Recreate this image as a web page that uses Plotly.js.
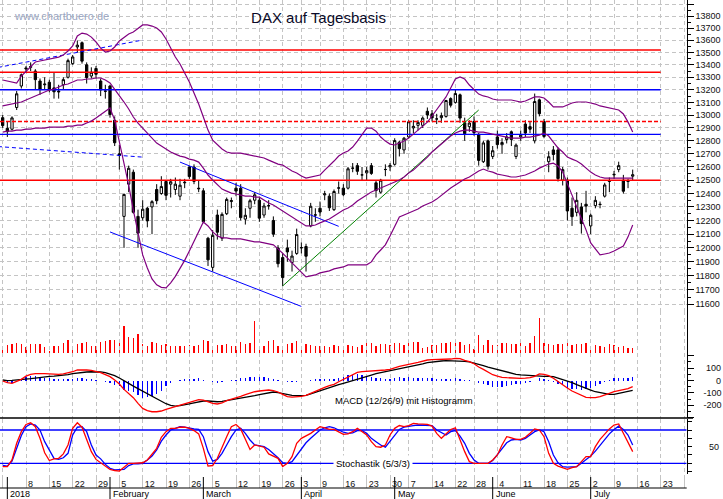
<!DOCTYPE html>
<html><head><meta charset="utf-8">
<script src="https://cdn.plot.ly/plotly-3.0.1.min.js"></script>
<style>html,body{margin:0;padding:0;background:#fff}#chart{width:723px;height:499px}</style>
</head><body><div id="chart"></div>
<script>
// ---------------- DATA ----------------
const dates = ['2017-12-29',
'2018-01-02','2018-01-03','2018-01-04','2018-01-05','2018-01-08','2018-01-09','2018-01-10','2018-01-11','2018-01-12','2018-01-15','2018-01-16','2018-01-17','2018-01-18','2018-01-19','2018-01-22','2018-01-23','2018-01-24','2018-01-25','2018-01-26','2018-01-29','2018-01-30','2018-01-31',
'2018-02-01','2018-02-02','2018-02-05','2018-02-06','2018-02-07','2018-02-08','2018-02-09','2018-02-12','2018-02-13','2018-02-14','2018-02-15','2018-02-16','2018-02-19','2018-02-20','2018-02-21','2018-02-22','2018-02-23','2018-02-26','2018-02-27','2018-02-28',
'2018-03-01','2018-03-02','2018-03-05','2018-03-06','2018-03-07','2018-03-08','2018-03-09','2018-03-12','2018-03-13','2018-03-14','2018-03-15','2018-03-16','2018-03-19','2018-03-20','2018-03-21','2018-03-22','2018-03-23','2018-03-26','2018-03-27','2018-03-28','2018-03-29',
'2018-04-03','2018-04-04','2018-04-05','2018-04-06','2018-04-09','2018-04-10','2018-04-11','2018-04-12','2018-04-13','2018-04-16','2018-04-17','2018-04-18','2018-04-19','2018-04-20','2018-04-23','2018-04-24','2018-04-25','2018-04-26','2018-04-27','2018-04-30',
'2018-05-02','2018-05-03','2018-05-04','2018-05-07','2018-05-08','2018-05-09','2018-05-10','2018-05-11','2018-05-14','2018-05-15','2018-05-16','2018-05-17','2018-05-18','2018-05-22','2018-05-23','2018-05-24','2018-05-25','2018-05-28','2018-05-29','2018-05-30','2018-05-31',
'2018-06-01','2018-06-04','2018-06-05','2018-06-06','2018-06-07','2018-06-08','2018-06-11','2018-06-12','2018-06-13','2018-06-14','2018-06-15','2018-06-18','2018-06-19','2018-06-20','2018-06-21','2018-06-22','2018-06-25','2018-06-26','2018-06-27','2018-06-28','2018-06-29',
'2018-07-02','2018-07-03','2018-07-04','2018-07-05','2018-07-06','2018-07-09','2018-07-10','2018-07-11','2018-07-12','2018-07-13'];

const openP = [12980,12897,12890,13060,13230,13375,13380,13350,13270,13240,
13260,13215,13190,13240,13300,13410,13545,13580,13400,13310,
13370,13270,13190,13230,12960,12700,12230,12470,12560,12230,
12220,12290,12300,12430,12400,12490,12470,12430,12380,12480,
12600,12600,12440,12420,12070,11860,12240,12070,12250,12340,
12440,12440,12210,12290,12350,12350,12240,12310,12200,12000,
11930,12000,11895,11960,12000,12010,12160,12240,12290,12390,
12380,12280,12440,12440,12440,12590,12610,12540,12555,12610,
12480,12410,12580,12600,12620,12790,12730,12830,12900,12920,
12920,13030,13010,12970,12980,12990,13130,13100,13160,12940,
12910,12950,12850,12640,12800,12680,12830,12770,12810,12870,
12680,12830,12930,12910,12800,13120,12950,12640,12730,12730,
12500,12500,12290,12260,12300,12320,12160,12310,12320,12380,
12490,12540,12580,12500,12490,12530];
const highP = [13000,12951,12990,13190,13330,13390,13420,13365,13290,13300,
13280,13340,13240,13300,13450,13480,13597,13590,13420,13380,
13390,13290,13240,13240,12990,12770,12400,12610,12580,12280,
12350,12300,12350,12470,12530,12500,12510,12520,12510,12510,
12610,12620,12500,12440,12080,12130,12280,12260,12370,12370,
12480,12470,12290,12360,12410,12370,12330,12350,12230,12020,
11960,12060,11980,12140,12040,12030,12330,12290,12340,12420,
12400,12430,12490,12470,12600,12630,12630,12600,12600,12630,
12500,12510,12620,12630,12820,12800,12830,12960,12960,12960,
12990,13060,13040,13010,13020,13120,13140,13205,13170,12980,
12960,12990,12860,12800,12810,12760,12880,12820,12860,12880,
12780,12880,12960,12950,13170,13130,12970,12720,12760,12750,
12600,12520,12370,12410,12330,12420,12250,12380,12340,12480,
12520,12570,12640,12540,12510,12580];
const lowP = [12900,12830,12880,13040,13210,13340,13350,13200,13160,13200,
13180,13130,13130,13200,13290,13400,13500,13410,13250,13290,
13290,13150,13130,12980,12760,12580,12000,12410,12250,12000,
12200,12150,12100,12320,12390,12350,12370,12390,12350,12440,
12510,12470,12410,12180,11870,11830,12060,12050,12240,12290,
12380,12200,12170,12220,12320,12190,12220,12280,12080,11860,
11726,11900,11830,11950,11960,11830,12150,12190,12230,12350,
12270,12270,12400,12380,12430,12560,12540,12500,12500,12540,
12370,12400,12530,12570,12610,12680,12700,12820,12860,12880,
12900,12970,12950,12930,12940,12980,13060,13090,12940,12800,
12870,12840,12610,12630,12580,12660,12740,12700,12780,12760,
12660,12800,12830,12860,12780,12990,12820,12560,12650,12490,
12460,12200,12160,12230,12104,12260,12100,12290,12290,12370,
12410,12510,12560,12400,12440,12500];
const closeP = [12918,12871,12978,13168,13320,13368,13386,13281,13203,13245,
13200,13184,13184,13281,13434,13464,13560,13430,13298,13340,
13324,13198,13189,13004,12785,12687,12393,12590,12260,12107,
12283,12197,12339,12346,12452,12386,12488,12470,12462,12484,
12527,12491,12436,12191,11914,12091,12114,12245,12356,12347,
12418,12221,12238,12346,12390,12217,12307,12309,12100,11886,
11787,11971,11941,12097,12002,11940,12305,12241,12262,12397,
12294,12415,12442,12391,12586,12591,12567,12540,12572,12551,
12422,12500,12581,12612,12802,12740,12820,12948,12912,12943,
12977,13001,12978,12970,12996,13115,13078,13170,12977,12855,
12938,12863,12650,12784,12605,12724,12771,12787,12830,12811,
12767,12843,12860,12890,13107,13011,12834,12678,12695,12512,
12580,12270,12228,12349,12177,12306,12238,12349,12318,12464,
12496,12544,12610,12417,12493,12541];

const volume = [40,83,90,100,90,60,90,90,90,60,
26,70,70,100,130,70,90,100,110,70,
70,110,120,130,130,140,270,160,150,190,
90,70,110,100,80,90,70,70,70,70,
80,70,80,130,120,70,80,80,90,70,
70,110,90,100,320,70,70,120,130,70,
70,90,100,120,70,90,80,70,70,70,
60,80,70,60,80,70,60,83,100,106,
73,93,93,83,106,106,83,100,116,116,
50,66,83,83,100,100,116,133,116,83,
90,40,183,83,133,83,83,106,100,93,
93,100,73,100,173,350,100,93,83,93,
93,116,83,93,93,100,73,83,73,60,
93,83,60,73,50,50];

const bandUpper = [13278,13270,13262,13254,13310,13350,13390,13423,13431,13439,
13447,13455,13463,13480,13512,13553,13635,13659,13651,13626,
13586,13536,13504,13512,13545,13594,13626,13651,13668,13701,
13726,13726,13717,13701,13668,13610,13536,13463,13407,13334,
13262,13174,13087,12985,12883,12806,12768,12737,12714,12706,
12706,12706,12698,12691,12683,12675,12668,12652,12637,12622,
12614,12591,12569,12554,12531,12516,12524,12531,12539,12576,
12607,12645,12683,12706,12722,12752,12798,12852,12899,12899,
12875,12829,12798,12775,12768,12783,12798,12821,12852,12883,
12914,12945,12993,13040,13087,13143,13214,13286,13302,13286,
13238,13198,13166,13151,13143,13127,13119,13119,13119,13119,
13111,13103,13111,13127,13143,13143,13135,13103,13064,13064,
13064,13080,13095,13103,13103,13103,13095,13087,13072,13064,
13056,13048,13040,13009,12945,12868];
const bandMiddle = [13072,13080,13087,13095,13103,13119,13135,13151,13166,13182,
13198,13206,13222,13238,13246,13262,13278,13278,13286,13286,
13294,13294,13278,13254,13206,13151,13103,13048,12985,12938,
12899,12860,12814,12783,12760,12737,12714,12698,12683,12675,
12660,12652,12637,12591,12539,12501,12463,12433,12418,12403,
12396,12388,12381,12381,12373,12373,12351,12329,12314,12292,
12270,12248,12226,12204,12182,12160,12160,12167,12182,12197,
12211,12233,12255,12277,12292,12314,12344,12366,12388,12411,
12426,12441,12456,12471,12486,12501,12524,12554,12576,12607,
12645,12675,12714,12745,12775,12806,12837,12860,12875,12883,
12883,12875,12868,12868,12860,12852,12844,12837,12829,12821,
12821,12821,12829,12829,12837,12844,12860,12837,12790,12745,
12714,12675,12660,12645,12622,12591,12561,12539,12524,12516,
12516,12516,12516,12516,12516,12516];
const bandLower = [12868,12875,12875,12883,12883,12891,12891,12899,12899,12899,
12906,12906,12906,12906,12914,12914,12922,12922,12938,12953,
12977,13001,13032,13056,12961,12790,12637,12463,12277,12102,
11949,11856,11778,11736,11718,11714,11750,11796,11849,11910,
11978,12051,12124,12189,12160,12116,12087,12073,12073,12065,
12065,12065,12058,12051,12044,12044,12036,12029,12022,11993,
11963,11928,11892,11856,11821,11792,11799,11806,11821,11828,
11835,11849,11856,11863,11878,11878,11878,11878,11878,11899,
11949,11985,12022,12087,12160,12226,12240,12255,12270,12284,
12307,12322,12336,12358,12388,12411,12441,12463,12486,12509,
12524,12546,12569,12584,12569,12561,12546,12539,12531,12524,
12524,12531,12539,12554,12569,12591,12607,12622,12629,12607,
12561,12478,12388,12299,12218,12131,12036,11993,11949,11956,
11963,11978,11993,12014,12080,12167];

const macdLine = [-4,-18,-23,-10,9,36,50,55,58,55,
53,50,50,53,61,71,85,88,85,82,
74,63,47,31,4,-28,-72,-104,-139,-185,
-226,-244,-253,-253,-247,-234,-223,-212,-196,-185,
-174,-166,-155,-158,-172,-185,-190,-182,-163,-153,
-142,-128,-115,-101,-91,-85,-80,-77,-82,-93,
-112,-131,-134,-134,-128,-120,-104,-85,-66,-55,
-42,-31,-10,9,31,47,66,72,74,74,
77,80,85,90,104,115,123,134,139,147,
158,166,169,169,171,171,174,179,177,163,
153,136,109,90,69,47,36,26,23,20,
18,18,20,23,34,53,50,39,18,-10,
-31,-61,-85,-104,-123,-136,-139,-139,-131,-120,
-104,-91,-82,-77,-66,-50];
const signalLine = [4,-1,1,4,4,7,15,20,26,31,
34,36,39,42,47,55,61,66,69,71,
71,69,63,53,39,20,1,-23,-45,-66,
-88,-107,-126,-145,-166,-188,-201,-207,-204,-199,
-190,-182,-174,-166,-166,-172,-172,-169,-163,-158,
-150,-145,-139,-131,-123,-115,-107,-99,-93,-99,
-107,-115,-120,-123,-123,-120,-109,-96,-82,-69,
-55,-45,-34,-23,-11,1,13,26,36,44,
55,63,69,74,82,90,101,109,117,126,
134,144,150,155,158,161,161,161,161,155,
150,142,131,120,109,99,88,77,66,58,
50,45,42,39,36,36,34,34,31,20,
9,-4,-18,-34,-50,-64,-77,-91,-99,-107,
-112,-112,-104,-99,-88,-80];
const macdHist = [-8,-17,-24,-14,5,29,35,35,32,24,
19,14,11,11,14,16,24,22,16,11,
3,-6,-16,-22,-35,-48,-73,-81,-94,-119,
-138,-137,-127,-108,-81,-46,-22,-5,8,14,
16,16,19,8,-6,-13,-18,-13,0,5,
8,17,24,30,32,30,27,22,11,6,
-5,-16,-14,-11,-5,0,5,11,16,14,
13,14,24,32,42,46,53,46,38,30,
22,17,16,16,22,25,22,25,22,21,
24,22,19,14,13,10,13,18,16,8,
3,-6,-22,-30,-40,-52,-52,-51,-43,-38,
-32,-27,-22,-16,-2,17,16,5,-13,-30,
-40,-57,-67,-70,-73,-72,-62,-48,-32,-13,
8,21,22,22,22,30];

const stochK = [14,14,26,56,77,90,93,86,65,39,
25,28,29,37,53,83,93,85,63,41,
27,21,14,9,7,6,13,20,20,20,
21,26,37,47,67,77,83,83,85,85,
83,79,73,47,15,16,29,50,68,86,
90,82,63,45,53,51,49,37,33,29,
14,20,32,56,65,69,74,80,86,84,
81,81,76,72,73,77,83,77,71,59,
50,49,53,71,83,88,86,88,92,91,
91,90,87,74,65,73,81,84,62,41,
23,20,20,20,20,26,35,53,68,66,
63,63,67,74,82,80,68,38,20,15,
12,9,12,14,23,32,32,50,63,72,
82,89,91,74,56,41];
const stochD = [16,15,24,47,70,86,91,89,80,59,
43,29,27,30,38,71,85,86,77,53,
35,28,18,11,8,8,9,16,19,19,
20,26,33,44,60,71,80,83,86,85,
83,82,81,68,41,24,27,38,53,68,
80,83,74,62,53,51,50,45,38,30,
21,20,23,35,47,57,65,73,80,84,
86,84,80,76,74,75,79,79,74,65,
59,53,49,60,71,81,85,87,88,89,
89,89,88,80,75,71,77,79,69,56,
38,26,20,20,20,25,35,47,57,62,
63,62,65,71,77,80,77,59,35,21,
14,13,13,14,20,26,33,42,53,62,
73,81,87,81,71,53];

// horizontal support / resistance levels
const levelPrices = [13520, 13340, 13200, 12950, 12850, 12500];
const levelColors = ['#ff0000','#ff0000','#0000ff','#ff0000','#0000ff','#ff0000'];
const levelDash   = ['solid','solid','solid','4px,2px','solid','solid'];

// trend lines (trading-day index, price)
const dashUpperX = [-1, 30],  dashUpperY = [13379, 13602];
const dashLowerX = [-1, 30],  dashLowerY = [12756, 12675];
const chanUpperX = [38, 72],  chanUpperY = [12637, 12157];
const chanLowerX = [23, 64],  chanLowerY = [12116, 11584];
const greenX     = [60, 102], greenY     = [11728, 13040];

// axis labels
const weekTickIdx = [0,5,10,15,20,25,30,35,40,45,50,55,60,64,68,73,78,83,87,92,97,101,106,111,116,121,126,131,136,141,146];
const weekTickLabels = ['','8','15','22','29','5','12','19','26','5','12','19','26','3','9','16','23','30','7','14','22','28','4','11','18','25','2','9','16','23',''];
const monthIdx = [1,23,43,64,84,105,126];
const monthLabels = ['2018','February','March','April','May','June','July'];
const priceTicks = [11600,11700,11800,11900,12000,12100,12200,12300,12400,12500,12600,12700,12800,12900,13000,13100,13200,13300,13400,13500,13600,13700,13800,13900];
const macdTicks = [-300,-200,-100,0,100,200];
const macdTickText = ['','-200','-100','\u2007\u2007\u20080','\u2008100',''];
const stochTicks = [5,20,35,50,65,80,95];
const stochTickText = ['','','','\u2007\u200850','','',''];
const stochLevels = [80, 20];

// ---------------- LAYOUT HELPERS ----------------
const W = 723, H = 499;
const py = p => 1 - p / H;          // pixel row -> paper y
const pxx = p => p / W;             // pixel column -> paper x
const xDomEnd = 686.7 / W;
const xRange = [-0.572, 146.57];
const idx = dates.map((d, i) => i);
const FONT = 'Liberation Sans, Arial, sans-serif';
const levelEnd = weekTickIdx[weekTickLabels.indexOf('23', 25)];

const traces = [];
levelPrices.forEach((p, k) => traces.push({
  type:'scatter', mode:'lines', x:[xRange[0], levelEnd], y:[p, p],
  line:{color:levelColors[k], width:1.4, dash:levelDash[k]}, xaxis:'x', yaxis:'y'
}));
[[dashUpperX,dashUpperY,'#0000ff','4px,3px'],[dashLowerX,dashLowerY,'#0000ff','4px,3px'],
 [chanUpperX,chanUpperY,'#0000ff','solid'],[chanLowerX,chanLowerY,'#0000ff','solid'],
 [greenX,greenY,'#008000','solid']].forEach(([xx,yy,c,d]) => traces.push({
  type:'scatter', mode:'lines', x:xx, y:yy, line:{color:c, width:1, dash:d}, xaxis:'x', yaxis:'y'
}));
[bandUpper, bandMiddle, bandLower].forEach(b => traces.push({
  type:'scatter', mode:'lines', x:idx, y:b, line:{color:'#800080', width:1.2}, xaxis:'x', yaxis:'y'
}));
traces.push({
  type:'candlestick', x:idx, open:openP, high:highP, low:lowP, close:closeP,
  increasing:{line:{color:'#000', width:1}, fillcolor:'#ffffff'},
  decreasing:{line:{color:'#000', width:1}, fillcolor:'#000000'},
  whiskerwidth:0, xaxis:'x', yaxis:'y'
});
traces.push({type:'bar', x:idx, y:volume, width:0.25, marker:{color:'#ff0000', line:{width:0}}, xaxis:'x', yaxis:'y2'});
traces.push({type:'bar', x:idx, y:macdHist, width:0.25, marker:{color:'#0000ff', line:{width:0}}, xaxis:'x', yaxis:'y3'});
traces.push({type:'scatter', mode:'lines', x:idx, y:signalLine, line:{color:'#000', width:1.3}, xaxis:'x', yaxis:'y3'});
traces.push({type:'scatter', mode:'lines', x:idx, y:macdLine, line:{color:'#ff0000', width:1.3}, xaxis:'x', yaxis:'y3'});
stochLevels.forEach(l => traces.push({type:'scatter', mode:'lines', x:[xRange[0], xRange[1]], y:[l,l], line:{color:'#0000ff', width:1.3}, xaxis:'x', yaxis:'y4'}));
traces.push({type:'scatter', mode:'lines', x:idx, y:stochD, line:{color:'#0000ff', width:1.3}, xaxis:'x', yaxis:'y4'});
traces.push({type:'scatter', mode:'lines', x:idx, y:stochK, line:{color:'#ff0000', width:1.3}, xaxis:'x', yaxis:'y4'});

const pad1 = s => s.length === 1 ? s + '\u2007' : s;
const priceMinor = priceTicks.slice(0, -1).map(v => v + 50).concat([11550]);

const yCommon = {side:'right', anchor:'x', showline:true, linecolor:'#000', linewidth:1,
  ticks:'outside', tickcolor:'#000', tickwidth:1, zeroline:false, fixedrange:true,
  tickfont:{family:FONT, size:9, color:'#111'}, tickmode:'array'};

const shapes = [
  {type:'line', xref:'paper', yref:'paper', x0:0, x1:pxx(693), y0:py(418), y1:py(418), line:{color:'#000', width:1.5}},
  {type:'line', xref:'paper', yref:'paper', x0:0, x1:xDomEnd, y0:py(488), y1:py(488), line:{color:'#000', width:1.2}}
];
monthIdx.forEach(m => shapes.push({type:'line', xref:'x', yref:'paper', x0:m, x1:m, y0:py(477), y1:0, line:{color:'#000', width:1}}));

const annotations = [
  {xref:'paper', yref:'paper', x:pxx(11.5), y:py(16.5), xanchor:'left', yanchor:'middle', showarrow:false,
   text:'www.chartbuero.de', font:{family:FONT, size:11, color:'#9aa6c2'}},
  {xref:'paper', yref:'paper', x:pxx(332.5), y:py(400.5), xanchor:'left', yanchor:'middle', showarrow:false,
   text:'MACD (12/26/9) mit Histogramm', font:{family:FONT, size:9.5, color:'#000'}},
  {xref:'paper', yref:'paper', x:pxx(332.5), y:py(463.3), xanchor:'left', yanchor:'middle', showarrow:false,
   text:'Stochastik (5/3/3)', bgcolor:'#ffffff', borderpad:2, font:{family:FONT, size:9.5, color:'#000'}}
];
monthIdx.forEach((m, k) => annotations.push({xref:'x', yref:'paper', x:m, y:py(493.5), xanchor:'left', yanchor:'middle',
  xshift:1, showarrow:false, text:monthLabels[k], font:{family:FONT, size:9, color:'#000'}}));

const layout = {
  width:W, height:H, margin:{l:0, r:0, t:0, b:0},
  paper_bgcolor:'#ffffff', plot_bgcolor:'rgba(0,0,0,0)',
  showlegend:false, hovermode:false, bargap:0,
  title:{text:'DAX auf Tagesbasis', xref:'container', yref:'container', x:pxx(318.5), y:py(17.5),
    xanchor:'center', yanchor:'middle', font:{family:FONT, size:15, color:'#0a0a28'}},
  xaxis:{domain:[0, xDomEnd], range:xRange, anchor:'free', position:py(474.4), fixedrange:true,
    rangeslider:{visible:false}, showline:false, zeroline:false,
    showgrid:true, gridcolor:'#c4c4c4', griddash:'4px,3px', gridwidth:1,
    tickmode:'array', tickvals:weekTickIdx, ticktext:weekTickLabels.map(pad1),
    ticks:'outside', ticklen:13, tickcolor:'#c4c4c4', tickwidth:1,
    ticklabelshift:7, ticklabelstandoff:-12,
    tickfont:{family:FONT, size:9, color:'#111'}},
  yaxis:Object.assign({}, yCommon, {domain:[py(311), 1], type:'log', range:[4.06266, 4.14408],
    tickvals:priceTicks, ticktext:priceTicks.map(v => v === 13900 ? '' : String(v)), ticklen:6,
    showgrid:true, gridcolor:'#c4c4c4', griddash:'4px,3px', gridwidth:1,
    minor:{tickmode:'array', tickvals:priceMinor, ticks:'outside', ticklen:3, tickcolor:'#000', showgrid:false}}),
  yaxis2:{domain:[py(353.3), py(311)], range:[0, 423], anchor:'x', visible:false, fixedrange:true},
  yaxis3:Object.assign({}, yCommon, {domain:[py(418), py(311)], range:[-303.6, 562.8],
    tickvals:macdTicks, ticktext:macdTickText, ticklen:6, ticklabelstandoff:8, showgrid:false,
    minor:{tickmode:'array', tickvals:[-250,-150,-50,50,150], ticks:'outside', ticklen:3, tickcolor:'#000', showgrid:false}}),
  yaxis4:Object.assign({}, yCommon, {domain:[py(474.4), py(418.9)], range:[0, 100],
    tickvals:stochTicks, ticktext:stochTickText, ticklen:4, ticklabelstandoff:8, showgrid:false}),
  shapes:shapes, annotations:annotations
};

Plotly.newPlot('chart', traces, layout, {staticPlot:true, displayModeBar:false});
</script>
</body></html>
